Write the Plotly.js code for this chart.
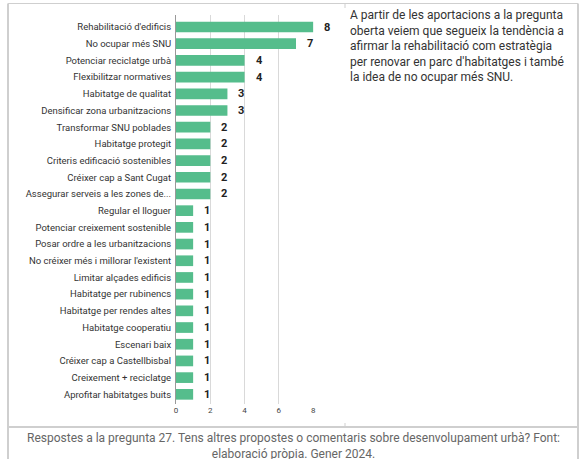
<!DOCTYPE html>
<html><head><meta charset="utf-8">
<script src="https://cdn.plot.ly/plotly-3.0.1.min.js"></script>
<style>html,body{margin:0;padding:0;background:#fff}#chart{width:584px;height:459px}</style>
</head><body><div id="chart"></div>
<script>
const categories = [
  "Rehabilitació d'edificis","No ocupar més SNU","Potenciar reciclatge urbà","Flexibilitzar normatives",
  "Habitatge de qualitat","Densificar zona urbanitzacions","Transformar SNU poblades","Habitatge protegit",
  "Criteris edificació sostenibles","Créixer cap a Sant Cugat","Assegurar serveis a les zones de...",
  "Regular el lloguer","Potenciar creixement sostenible","Posar ordre a les urbanitzacions",
  "No créixer més i millorar l'existent","Limitar alçades edificis","Habitatge per rubinencs",
  "Habitatge per rendes altes","Habitatge cooperatiu","Escenari baix","Créixer cap a Castellbisbal",
  "Creixement + reciclatge","Aprofitar habitatges buits"
];
const values = [8,7,4,4,3,3,2,2,2,2,2,1,1,1,1,1,1,1,1,1,1,1,1];
const xTicks = [0,2,4,6,8];
const sideText = "A partir de les aportacions a la pregunta<br>oberta veiem que segueix la tendència a<br>afirmar la rehabilitació com estratègia<br>per renovar en parc d'habitatges i també<br>la idea de no ocupar més SNU.";
const caption = "Respostes a la pregunta 27. Tens altres propostes o comentaris sobre desenvolupament urbà? Font:<br>elaboració pròpia. Gener 2024.";

const W = 584, H = 459;
const M = {l:176, r:W-314, t:15, b:H-404};
const PW = W - M.l - M.r, PH = H - M.t - M.b;
const px = x => (x - M.l) / PW;
const py = y => (H - M.b - y) / PH;
const border = '#cfcfcf';

const annotations = values.map((v,i)=>({
  x: v, y: categories[i], xref:'x', yref:'y', text: String(v), showarrow:false,
  xanchor:'left', xshift:9, font:{family:'Roboto', size:11, color:'#222', weight:'bold'}
}));
annotations.push({xref:'paper', yref:'paper', x:px(348), y:py(6), xanchor:'left', yanchor:'top', align:'left',
  text: sideText, showarrow:false, font:{family:'Roboto', size:12, color:'#333'}});
annotations.push({xref:'paper', yref:'paper', x:px(293), y:py(429), xanchor:'center', yanchor:'top', align:'center',
  text: caption, showarrow:false, font:{family:'Roboto', size:12, color:'#666'}});

const shapes = [
  {type:'line', xref:'paper', yref:'paper', x0:px(8), x1:px(578), y0:py(3.5), y1:py(3.5), line:{color:border, width:1}},
  {type:'line', xref:'paper', yref:'paper', x0:px(8), x1:px(8), y0:py(3.5), y1:py(459), line:{color:border, width:2}},
  {type:'line', xref:'paper', yref:'paper', x0:px(578), x1:px(578), y0:py(3.5), y1:py(459), line:{color:border, width:2}},
  {type:'line', xref:'paper', yref:'paper', x0:px(8), x1:px(578), y0:py(427), y1:py(427), line:{color:border, width:2}},
  {type:'line', xref:'paper', yref:'paper', x0:px(345), x1:px(345), y0:py(3.5), y1:py(8), line:{color:border, width:1}},
  {type:'line', xref:'paper', yref:'paper', x0:px(345), x1:px(345), y0:py(423), y1:py(427), line:{color:border, width:1}}
];

Plotly.newPlot('chart', [{
  type:'bar', orientation:'h', x: values, y: categories,
  marker:{color:'#55bd8c'}, hoverinfo:'skip'
}], {
  width:W, height:H, margin:M, showlegend:false,
  paper_bgcolor:'#fff', plot_bgcolor:'#fff', bargap:0.36,
  font:{family:'Roboto', color:'#333'},
  xaxis:{range:[0,8.05], tickvals:xTicks, ticktext:xTicks.map(String), showgrid:true, gridcolor:'#d9d9d9',
    zeroline:false, showline:false, ticks:'', tickfont:{size:8, color:'#444'}, fixedrange:true},
  yaxis:{categoryorder:'array', categoryarray:categories.slice().reverse(), type:'category',
    range:[-0.58, categories.length-0.28], showline:true, linecolor:'#999', linewidth:1,
    ticks:'', tickfont:{size:9.5, color:'#333'}, ticklabelstandoff:2, showgrid:false, fixedrange:true},
  annotations, shapes
}, {staticPlot:true, displayModeBar:false});
</script></body></html>
